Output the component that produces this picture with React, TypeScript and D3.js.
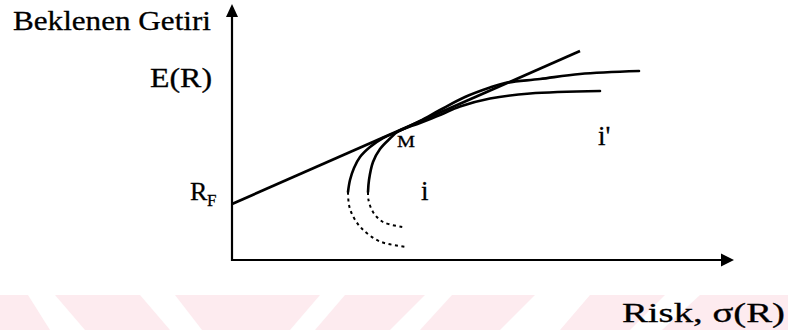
import React from "react";
import * as d3 from "d3";

// Capital market line (risk, return)
const cmlRisk = [0, 69.6];
const cmlReturn = [22.4, 83.6];

// Efficient frontier i' (outer curve) – solid upper part
const outerSolidRisk = [23.2, 23.6, 24.4, 25.6, 27.6, 30.2, 33.2, 37.6, 41.6, 46.6, 51.6, 54.6, 61.6, 69.6, 81.4];
const outerSolidReturn = [27.2, 32, 36.8, 41.2, 45.2, 48.8, 51.4, 55.6, 60, 65.2, 69, 70.8, 72.4, 74.4, 75.6];
// dashed lower part of i'
const outerDashRisk = [23.2, 23.4, 24.2, 26, 29.6, 35];
const outerDashReturn = [27.2, 22, 17.5, 12.5, 7.4, 5.2];

// Efficient frontier i (inner curve)
const innerSolidRisk = [27.2, 27.4, 28.2, 29.6, 31.6, 33.2, 37.6, 41.6, 45.6, 51.6, 59.6, 73.6];
const innerSolidReturn = [27.2, 32, 39.2, 44.4, 48.6, 51.4, 54.8, 58, 61.4, 64.6, 66.6, 67.6];
const innerDashRisk = [27.2, 27.3, 28.2, 30.2, 34.2];
const innerDashReturn = [27.2, 24, 19.2, 15.2, 13.2];

// Tangency portfolio M
const mPoint = [33.2, 51.6];

// Labels
const yAxisTitle = "Beklenen Getiri";
const yTopLabel = "E(R)";
const xAxisTitle = "Risk, σ(R)";

// Faint watermark stripes (top x, bottom x pairs of white gaps)
const wmGapTop = [[28, 55], [140, 175], [320, 345], [425, 452], [535, 590], [665, 700]];
const wmGapBottom = [[50, 85], [170, 202], [290, 315], [390, 420], [500, 560], [630, 662]];

const W = 788;
const H = 330;

const zip = (a: number[], b: number[]) => a.map((v, i) => [v, b[i]] as [number, number]);

export default function App() {
  const x = d3.scaleLinear().domain([0, 100]).range([232, 732]);
  const y = d3.scaleLinear().domain([0, 100]).range([260, 10]);

  const curve = d3
    .line<[number, number]>()
    .x((d) => x(d[0]))
    .y((d) => y(d[1]))
    .curve(d3.curveCatmullRom.alpha(0.5));
  const straight = d3
    .line<[number, number]>()
    .x((d) => x(d[0]))
    .y((d) => y(d[1]));

  const x0 = x(0);
  const y0 = y(0);
  const font = "'Liberation Serif', 'Times New Roman', serif";

  const wmTop = 295;
  const wmBottom = 330;

  return (
    <svg
      width={W}
      height={H}
      viewBox={`0 0 ${W} ${H}`}
      style={{ position: "absolute", left: 0, top: 0, background: "#ffffff" }}
    >
      {/* watermark */}
      <rect x={0} y={wmTop} width={W} height={wmBottom - wmTop} fill="#fdebef" />
      {wmGapTop.map((g, i) => (
        <polygon
          key={i}
          points={`${g[0]},${wmTop} ${g[1]},${wmTop} ${wmGapBottom[i][1]},${wmBottom} ${wmGapBottom[i][0]},${wmBottom}`}
          fill="#ffffff"
        />
      ))}

      {/* axes */}
      <line x1={x0} y1={y0 + 1} x2={x0} y2={14} stroke="#000" strokeWidth={2.2} />
      <path d={`M${x0},4 L${x0 - 6},17 L${x0 + 6},17 Z`} fill="#000" />
      <line x1={x0 - 1} y1={y0} x2={724} y2={y0} stroke="#000" strokeWidth={2.2} />
      <path d={`M734,${y0} L721,${y0 - 6.5} L721,${y0 + 6.5} Z`} fill="#000" />

      {/* CML */}
      <path d={straight(zip(cmlRisk, cmlReturn)) || ""} fill="none" stroke="#000" strokeWidth={2.8} />

      {/* frontiers */}
      <path d={curve(zip(outerSolidRisk, outerSolidReturn)) || ""} fill="none" stroke="#000" strokeWidth={2.6} strokeLinecap="round" />
      <path d={curve(zip(outerDashRisk, outerDashReturn)) || ""} fill="none" stroke="#000" strokeWidth={2} strokeDasharray="3 3.5" />
      <path d={curve(zip(innerSolidRisk, innerSolidReturn)) || ""} fill="none" stroke="#000" strokeWidth={2.6} strokeLinecap="round" />
      <path d={curve(zip(innerDashRisk, innerDashReturn)) || ""} fill="none" stroke="#000" strokeWidth={2} strokeDasharray="3 3.5" />

      {/* labels */}
      <g fontFamily={font} fill="#000" stroke="#000" strokeWidth={0.3}>
        <text x={13} y={30} fontSize={27} textLength={198} lengthAdjust="spacingAndGlyphs">
          {yAxisTitle}
        </text>
        <text x={150} y={87} fontSize={27} textLength={62} lengthAdjust="spacingAndGlyphs">
          {yTopLabel}
        </text>
        <text x={190} y={200} fontSize={26}>
          R
        </text>
        <text x={207} y={206} fontSize={17}>
          F
        </text>
        <text x={x(mPoint[0]) - 1} y={y(mPoint[1]) + 16} fontSize={17} textLength={18} lengthAdjust="spacingAndGlyphs">
          M
        </text>
        <text x={421} y={200} fontSize={27}>
          i
        </text>
        <text x={598} y={145} fontSize={27}>
          i'
        </text>
        <text x={622} y={322} fontSize={28} textLength={163} lengthAdjust="spacingAndGlyphs">
          {xAxisTitle}
        </text>
      </g>
    </svg>
  );
}
